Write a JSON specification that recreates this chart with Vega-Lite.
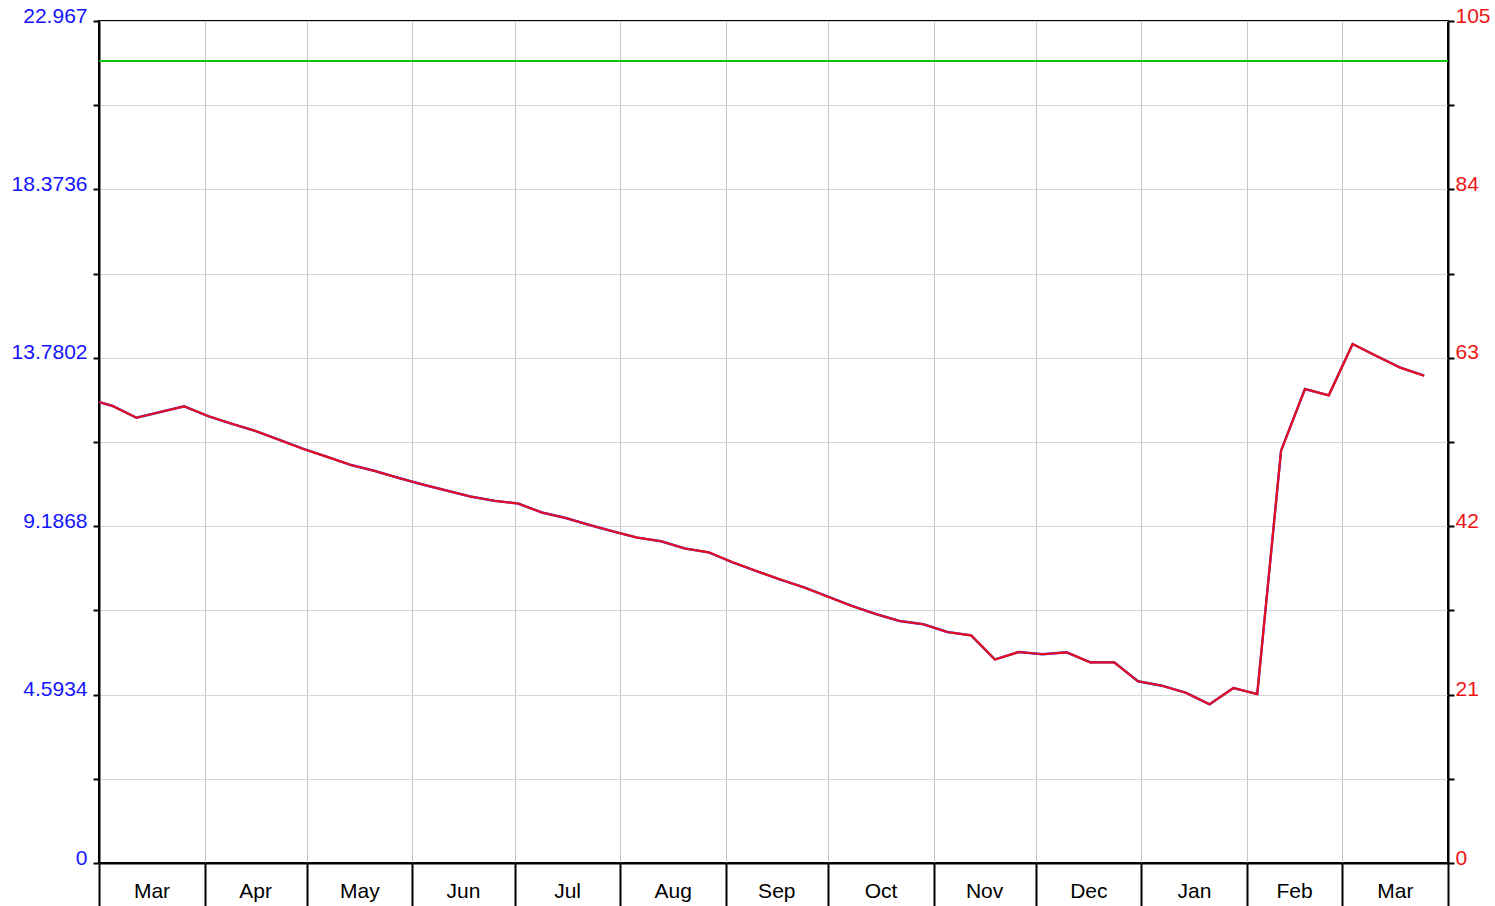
{
  "$schema": "https://vega.github.io/schema/vega-lite/v6.json",
  "width": 1349,
  "height": 842,
  "autosize": {"type": "none"},
  "padding": {"left": 99, "top": 21, "right": 47, "bottom": 43},
  "background": "white",
  "config": {
    "font": "Liberation Sans",
    "view": {"stroke": "black", "strokeWidth": 2}
  },
  "data": {
    "values": [
      {"date": "2018/03/01", "right": 57.49, "left": 12.5750},
      {"date": "2018/03/05", "right": 56.99, "left": 12.4656},
      {"date": "2018/03/12", "right": 55.53, "left": 12.1462},
      {"date": "2018/03/19", "right": 56.24, "left": 12.3016},
      {"date": "2018/03/26", "right": 56.95, "left": 12.4568},
      {"date": "2018/04/02", "right": 55.74, "left": 12.1922},
      {"date": "2018/04/09", "right": 54.77, "left": 11.9800},
      {"date": "2018/04/16", "right": 53.87, "left": 11.7831},
      {"date": "2018/04/23", "right": 52.75, "left": 11.5382},
      {"date": "2018/04/30", "right": 51.63, "left": 11.2932},
      {"date": "2018/05/07", "right": 50.65, "left": 11.0788},
      {"date": "2018/05/14", "right": 49.63, "left": 10.8557},
      {"date": "2018/05/21", "right": 48.88, "left": 10.6917},
      {"date": "2018/05/28", "right": 48.01, "left": 10.5014},
      {"date": "2018/06/04", "right": 47.20, "left": 10.3242},
      {"date": "2018/06/11", "right": 46.45, "left": 10.1601},
      {"date": "2018/06/18", "right": 45.70, "left": 9.9961},
      {"date": "2018/06/25", "right": 45.17, "left": 9.8802},
      {"date": "2018/07/02", "right": 44.83, "left": 9.8058},
      {"date": "2018/07/09", "right": 43.71, "left": 9.5608},
      {"date": "2018/07/16", "right": 43.02, "left": 9.4099},
      {"date": "2018/07/23", "right": 42.15, "left": 9.2196},
      {"date": "2018/07/30", "right": 41.34, "left": 9.0424},
      {"date": "2018/08/06", "right": 40.57, "left": 8.8740},
      {"date": "2018/08/13", "right": 40.12, "left": 8.7756},
      {"date": "2018/08/20", "right": 39.22, "left": 8.5787},
      {"date": "2018/08/27", "right": 38.74, "left": 8.4737},
      {"date": "2018/09/03", "right": 37.50, "left": 8.2025},
      {"date": "2018/09/10", "right": 36.41, "left": 7.9641},
      {"date": "2018/09/17", "right": 35.35, "left": 7.7322},
      {"date": "2018/09/24", "right": 34.36, "left": 7.5157},
      {"date": "2018/10/01", "right": 33.21, "left": 7.2641},
      {"date": "2018/10/08", "right": 32.05, "left": 7.0104},
      {"date": "2018/10/15", "right": 31.05, "left": 6.7917},
      {"date": "2018/10/22", "right": 30.18, "left": 6.6014},
      {"date": "2018/10/29", "right": 29.77, "left": 6.5117},
      {"date": "2018/11/05", "right": 28.81, "left": 6.3017},
      {"date": "2018/11/12", "right": 28.39, "left": 6.2098},
      {"date": "2018/11/19", "right": 25.38, "left": 5.5514},
      {"date": "2018/11/26", "right": 26.31, "left": 5.7549},
      {"date": "2018/12/03", "right": 26.03, "left": 5.6936},
      {"date": "2018/12/10", "right": 26.27, "left": 5.7461},
      {"date": "2018/12/17", "right": 25.03, "left": 5.4749},
      {"date": "2018/12/24", "right": 25.03, "left": 5.4749},
      {"date": "2018/12/31", "right": 22.66, "left": 4.9565},
      {"date": "2019/01/07", "right": 22.11, "left": 4.8362},
      {"date": "2019/01/14", "right": 21.24, "left": 4.6459},
      {"date": "2019/01/21", "right": 19.79, "left": 4.3287},
      {"date": "2019/01/28", "right": 21.82, "left": 4.7728},
      {"date": "2019/02/04", "right": 21.07, "left": 4.6087},
      {"date": "2019/02/11", "right": 51.42, "left": 11.2473},
      {"date": "2019/02/18", "right": 59.11, "left": 12.9293},
      {"date": "2019/02/25", "right": 58.32, "left": 12.7565},
      {"date": "2019/03/04", "right": 64.72, "left": 14.1564},
      {"date": "2019/03/11", "right": 63.22, "left": 13.8283},
      {"date": "2019/03/18", "right": 61.77, "left": 13.5111},
      {"date": "2019/03/25", "right": 60.77, "left": 13.2924}
    ]
  },
  "resolve": {"scale": {"y": "independent"}},
  "layer": [
    {
      "mark": {"type": "line", "color": "#3030ff", "strokeWidth": 2.4},
      "encoding": {
        "x": {
          "field": "date",
          "type": "temporal",
          "scale": {"domain": [{"year": 2018, "month": 3, "date": 1}, {"year": 2019, "month": 4, "date": 1}]},
          "axis": {
            "title": null,
            "values": [
              {"year": 2018, "month": 3, "date": 1},
              {"year": 2018, "month": 4, "date": 1},
              {"year": 2018, "month": 5, "date": 1},
              {"year": 2018, "month": 6, "date": 1},
              {"year": 2018, "month": 7, "date": 1},
              {"year": 2018, "month": 8, "date": 1},
              {"year": 2018, "month": 9, "date": 1},
              {"year": 2018, "month": 10, "date": 1},
              {"year": 2018, "month": 11, "date": 1},
              {"year": 2018, "month": 12, "date": 1},
              {"year": 2019, "month": 1, "date": 1},
              {"year": 2019, "month": 2, "date": 1},
              {"year": 2019, "month": 3, "date": 1},
              {"year": 2019, "month": 4, "date": 1}
            ],
            "labelExpr": "datum.value >= datetime(2019, 3, 1) ? '' : timeFormat(datum.value, '%b')",
            "tickSize": 43,
            "tickColor": "black",
            "tickWidth": 2,
            "domainColor": "black",
            "domainWidth": 2,
            "grid": true,
            "gridColor": "#c8c8c8",
            "gridWidth": 1,
            "labelFontSize": 21,
            "labelColor": "black",
            "labelAlign": "center",
            "labelBaseline": "alphabetic",
            "labelPadding": -9,
            "labelOffset": {
              "condition": [
                {"test": "month(datum.value) == 1", "value": 47},
                {"test": "month(datum.value) == 3 || month(datum.value) == 5 || month(datum.value) == 8 || month(datum.value) == 10", "value": 50.5}
              ],
              "value": 52.5
            },
            "labelOverlap": false,
            "labelBound": false,
            "labelFlush": false
          }
        },
        "y": {
          "field": "left",
          "type": "quantitative",
          "scale": {"domain": [0, 22.967], "nice": false, "zero": false},
          "axis": {
            "orient": "left",
            "title": null,
            "values": [0, 2.2967, 4.5934, 6.8901, 9.1868, 11.4835, 13.7802, 16.0769, 18.3736, 20.6703, 22.967],
            "labelExpr": "round(datum.value / 2.2967) % 2 == 0 ? toString(datum.value) : ''",
            "tickSize": 6,
            "tickColor": "black",
            "tickWidth": 2,
            "domainColor": "black",
            "domainWidth": 2,
            "grid": true,
            "gridColor": "#d6d6d6",
            "gridWidth": 1,
            "labelColor": "#1414ff",
            "labelFontSize": 21,
            "labelPadding": 6,
            "labelBaseline": "alphabetic",
            "labelOffset": 1,
            "labelOverlap": false,
            "labelBound": false,
            "labelFlush": false
          }
        }
      }
    },
    {
      "layer": [
        {
          "mark": {"type": "rule", "color": "#12c012", "strokeWidth": 2},
          "encoding": {"y": {"datum": 100, "type": "quantitative"}}
        },
        {
          "mark": {"type": "line", "color": "#ea0e18", "strokeWidth": 2.2},
          "encoding": {
            "x": {"field": "date", "type": "temporal"},
            "y": {
              "field": "right",
              "type": "quantitative",
              "scale": {"domain": [0, 105], "nice": false, "zero": false},
              "axis": {
                "orient": "right",
                "title": null,
                "values": [0, 10.5, 21, 31.5, 42, 52.5, 63, 73.5, 84, 94.5, 105],
                "labelExpr": "datum.value % 21 == 0 ? toString(datum.value) : ''",
                "tickSize": 6,
                "tickColor": "black",
                "tickWidth": 2,
                "domainColor": "black",
                "domainWidth": 2,
                "grid": false,
                "labelColor": "#f01414",
                "labelFontSize": 21,
                "labelPadding": 1,
                "labelAlign": "left",
                "labelBaseline": "alphabetic",
                "labelOffset": 1,
                "labelOverlap": false,
                "labelBound": false,
                "labelFlush": false
              }
            }
          }
        }
      ]
    }
  ]
}
